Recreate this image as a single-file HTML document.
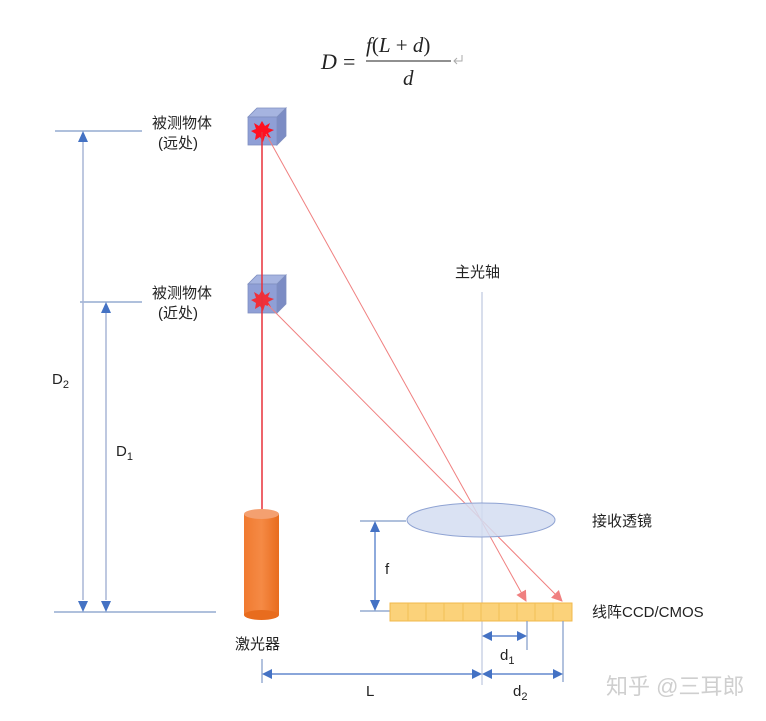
<!DOCTYPE html>
<html><head><meta charset="utf-8"><style>
body{margin:0;background:#fff;}
svg text{font-family:"Liberation Sans","Noto Sans CJK SC",sans-serif;fill:#222;}
</style></head><body>
<svg width="766" height="716" viewBox="0 0 766 716" xmlns="http://www.w3.org/2000/svg">
<defs>
<linearGradient id="cyl" x1="0" x2="1" y1="0" y2="0"><stop offset="0" stop-color="#f07a30"/><stop offset="0.5" stop-color="#f58a45"/><stop offset="1" stop-color="#e86c1e"/></linearGradient>
<marker id="ar" markerWidth="11" markerHeight="11" refX="10" refY="5.5" orient="auto" markerUnits="userSpaceOnUse"><path d="M0,0 L11,5.5 L0,11 z" fill="#f08080"/></marker>
</defs>
<!-- formula -->
<text x="321" y="69" font-style="italic" font-size="22" style="font-family:'Liberation Serif',serif">D</text>
<text x="343" y="69" font-size="22" style="font-family:'Liberation Serif',serif">=</text>
<text x="366" y="52" font-size="21" style="font-family:'Liberation Serif',serif"><tspan font-style="italic">f</tspan>(<tspan font-style="italic">L</tspan> + <tspan font-style="italic">d</tspan>)</text>
<line x1="366" y1="61" x2="451" y2="61" stroke="#222" stroke-width="1"/>
<text x="403" y="85" font-size="21" font-style="italic" style="font-family:'Liberation Serif',serif">d</text>
<path d="M462,55 v6 h-8 M457,58 l-3,3 l3,3" stroke="#aaa" fill="none" stroke-width="1"/>

<g stroke="#7f9ac8" stroke-width="1.2">
<line x1="55" y1="131" x2="142" y2="131"/>
<line x1="80" y1="302" x2="142" y2="302"/>
<line x1="54" y1="612" x2="216" y2="612"/>
</g>
<g stroke="#a9b6d6" stroke-width="1.5">
<line x1="83" y1="142" x2="83" y2="600"/>
<line x1="106" y1="312" x2="106" y2="600"/>
</g>
<path d="M83,131 l-5,11 h10z M83,612 l-5,-11 h10z M106,302 l-5,11 h10z M106,612 l-5,-11 h10z" fill="#4472c4"/>
<text x="52" y="384" font-size="15">D<tspan font-size="11" dy="4">2</tspan></text>
<text x="116" y="456" font-size="15">D<tspan font-size="11" dy="4">1</tspan></text>

<text x="152" y="128" font-size="15">被测物体</text>
<text x="158" y="148" font-size="15">(远处)</text>
<text x="152" y="298" font-size="15">被测物体</text>
<text x="158" y="318" font-size="15">(近处)</text>

<g stroke="#7f8fc0" stroke-width="0.8">
<path d="M248,117 L257,108 L286,108 L277,117 z" fill="#a6b4e0"/>
<path d="M277,117 L286,108 L286,136 L277,145 z" fill="#7c8cc4"/>
<rect x="248" y="117" width="29" height="28" fill="#8f9fd6"/>
<path d="M248,284 L257,275 L286,275 L277,284 z" fill="#a6b4e0"/>
<path d="M277,284 L286,275 L286,304 L277,313 z" fill="#7c8cc4"/>
<rect x="248" y="284" width="29" height="29" fill="#8f9fd6"/>
</g>
<polygon points="262,121 265,126 270,123 268,128 274,130 268,133 271,138 265,136 263,142 260,137 255,140 256,134 251,131 256,129 254,123 259,126" fill="#ff1020"/>
<polygon points="262,290 265,295 270,292 268,297 274,299 268,302 271,307 265,305 263,311 260,306 255,309 256,303 251,300 256,298 254,292 259,295" fill="#f0303a"/>

<line x1="262" y1="132" x2="262" y2="512" stroke="#e8303a" stroke-width="1.5"/>
<line x1="266" y1="134" x2="526" y2="601" stroke="#f08080" stroke-width="1" marker-end="url(#ar)"/>
<line x1="268" y1="305" x2="562" y2="601" stroke="#f08080" stroke-width="1" marker-end="url(#ar)"/>

<rect x="244" y="514" width="35" height="101" fill="url(#cyl)"/>
<ellipse cx="261.5" cy="615" rx="17.5" ry="5" fill="#e86c1e"/>
<ellipse cx="261.5" cy="514" rx="17.5" ry="5" fill="#f4a070"/>
<text x="235" y="649" font-size="15">激光器</text>

<text x="455" y="277" font-size="15">主光轴</text>
<line x1="482" y1="292" x2="482" y2="685" stroke="#b0bcd8" stroke-width="1"/>
<ellipse cx="481" cy="520" rx="74" ry="17" fill="#d3ddf1" fill-opacity="0.85" stroke="#8fa3d3" stroke-width="1"/>
<text x="592" y="526" font-size="15">接收透镜</text>

<g stroke="#7f9ac8" stroke-width="1.2">
<line x1="360" y1="521" x2="406" y2="521"/>
<line x1="360" y1="611" x2="390" y2="611"/>
<line x1="375" y1="532" x2="375" y2="600" stroke="#4472c4"/>
</g>
<path d="M375,521 l-5,11 h10z M375,611 l-5,-11 h10z" fill="#4472c4"/>
<text x="385" y="574" font-size="15">f</text>

<rect x="390" y="603" width="182" height="18" fill="#fbd27a" stroke="#f2b84b" stroke-width="1"/>
<g stroke="#f2c055" stroke-width="1">
<line x1="408" y1="603" x2="408" y2="621"/><line x1="426" y1="603" x2="426" y2="621"/><line x1="444" y1="603" x2="444" y2="621"/><line x1="463" y1="603" x2="463" y2="621"/><line x1="481" y1="603" x2="481" y2="621"/><line x1="499" y1="603" x2="499" y2="621"/><line x1="517" y1="603" x2="517" y2="621"/><line x1="535" y1="603" x2="535" y2="621"/><line x1="553" y1="603" x2="553" y2="621"/>
</g>
<text x="592" y="617" font-size="15">线阵CCD/CMOS</text>

<g stroke="#7f9ac8" stroke-width="1.2">
<line x1="527" y1="621" x2="527" y2="650"/>
<line x1="563" y1="621" x2="563" y2="682"/>
<line x1="262" y1="659" x2="262" y2="683"/>
</g>
<g stroke="#4472c4" stroke-width="1.2">
<line x1="492" y1="636" x2="517" y2="636"/>
<line x1="272" y1="674" x2="472" y2="674"/>
<line x1="492" y1="674" x2="553" y2="674"/>
</g>
<path d="M482,636 l10,-5 v10z M527,636 l-10,-5 v10z M262,674 l10,-5 v10z M482,674 l-10,-5 v10z M482,674 l10,-5 v10z M563,674 l-10,-5 v10z" fill="#4472c4"/>
<text x="500" y="660" font-size="15">d<tspan font-size="11" dy="4">1</tspan></text>
<text x="366" y="696" font-size="15">L</text>
<text x="513" y="696" font-size="15">d<tspan font-size="11" dy="4">2</tspan></text>

<text x="606" y="694" font-size="22" style="fill:#cfcfcf">知乎 @三耳郎</text>
</svg>
</body></html>
